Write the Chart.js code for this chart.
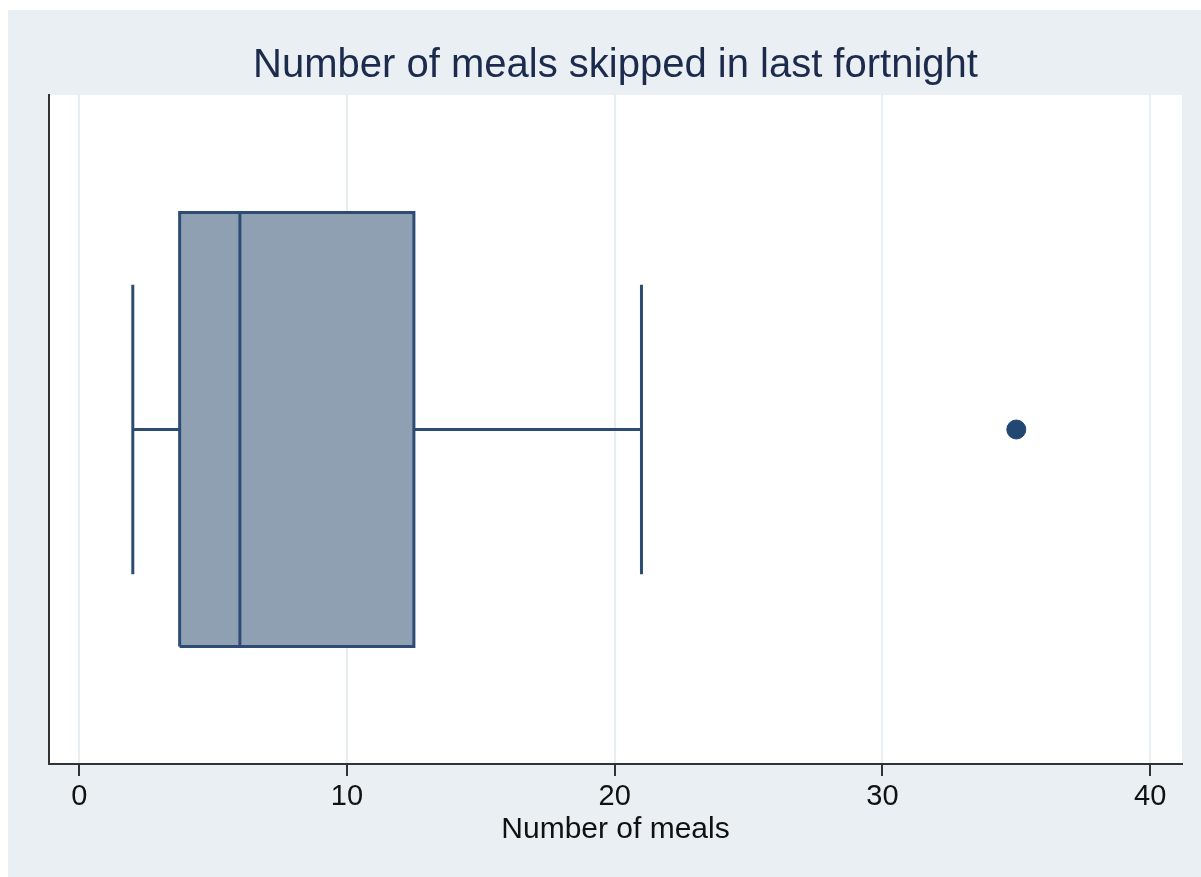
<!DOCTYPE html>
<html>
<head>
<meta charset="utf-8">
<script src="https://cdn.jsdelivr.net/npm/chart.js@4"></script>
<style>
  html, body { margin: 0; padding: 0; background: #ffffff; }
  #chart { display: block; }
</style>
</head>
<body>
<canvas id="chart" width="1201" height="877"></canvas>
<script>
// box plot values
var quartiles = [3.75, 6, 12.5];      // q1, median, q3
var whiskers = [2, 21];               // lower, upper adjacent values
var outliers = [35];
var xTicks = [0, 10, 20, 30, 40];

var boxHalf = 0.649;
var capHalf = 0.433;

var navy = "#2d4c73";

function seg(x1, y1, x2, y2){
    return [{x: x1, y: y1}, {x: x2, y: y2}];
}

var backdrop = {
    id: "backdrop",
    beforeDraw: function(chart){
        var ctx = chart.ctx;
        var a = chart.chartArea;
        ctx.save();
        ctx.fillStyle = "#eaeff3";
        ctx.fillRect(8, 10, chart.width - 8, chart.height - 10);
        ctx.fillStyle = "#ffffff";
        ctx.fillRect(a.left, a.top, a.right - a.left, a.bottom - a.top);
        ctx.restore();
    }
};

var lineStyle = {
    showLine: true,
    borderColor: navy,
    borderWidth: 3,
    pointRadius: 0,
    fill: false
};

new Chart(document.querySelector("#chart"), {
    type: "scatter",
    data: {
        datasets: [
            {
                label: "outliers",
                data: outliers.map(function(v){ return {x: v, y: 0}; }),
                pointRadius: 9.5,
                backgroundColor: "#214772",
                borderColor: "#214772",
                showLine: false
            },
            Object.assign({label: "median", data: seg(quartiles[1], -boxHalf, quartiles[1], boxHalf)}, lineStyle),
            Object.assign({label: "low cap", data: seg(whiskers[0], -capHalf, whiskers[0], capHalf)}, lineStyle),
            Object.assign({label: "low whisker", data: seg(whiskers[0], 0, quartiles[0], 0)}, lineStyle),
            Object.assign({label: "high cap", data: seg(whiskers[1], -capHalf, whiskers[1], capHalf)}, lineStyle),
            Object.assign({label: "high whisker", data: seg(quartiles[2], 0, whiskers[1], 0)}, lineStyle),
            Object.assign({}, lineStyle, {
                label: "box",
                data: [
                    {x: quartiles[0], y: -boxHalf},
                    {x: quartiles[2], y: -boxHalf},
                    {x: quartiles[2], y: boxHalf},
                    {x: quartiles[0], y: boxHalf},
                    {x: quartiles[0], y: -boxHalf}
                ],
                fill: "shape",
                backgroundColor: "#8fa0b3"
            })
        ]
    },
    options: {
        responsive: false,
        animation: false,
        devicePixelRatio: 1,
        layout: {
            padding: {top: 10, left: 49, right: 19, bottom: 0}
        },
        plugins: {
            legend: {display: false},
            tooltip: {enabled: false},
            title: {
                display: true,
                text: "Number of meals skipped in last fortnight",
                color: "#1c2a4c",
                font: {family: "'Liberation Sans', Arial, sans-serif", size: 40, weight: "normal"},
                padding: {top: 32, bottom: 5}
            }
        },
        scales: {
            x: {
                type: "linear",
                position: "bottom",
                min: -1.13,
                max: 41.19,
                afterBuildTicks: function(scale){
                    scale.ticks = xTicks.map(function(v){ return {value: v}; });
                },
                afterFit: function(scale){
                    scale.height = 113;
                },
                grid: {
                    color: "#e7eef2",
                    lineWidth: 2,
                    tickColor: "#333333",
                    tickWidth: 2,
                    tickLength: 12
                },
                border: {display: true, color: "#333333", width: 2},
                ticks: {
                    color: "#111111",
                    padding: 4,
                    maxRotation: 0,
                    font: {family: "'Liberation Sans', Arial, sans-serif", size: 29}
                },
                title: {
                    display: true,
                    text: "Number of meals",
                    color: "#111111",
                    padding: {top: 0, bottom: 29},
                    font: {family: "'Liberation Sans', Arial, sans-serif", size: 30}
                }
            },
            y: {
                type: "linear",
                min: -1,
                max: 1,
                afterFit: function(scale){
                    scale.width = 0;
                },
                grid: {display: false},
                border: {display: true, color: "#333333", width: 2},
                ticks: {display: false}
            }
        }
    },
    plugins: [backdrop]
});
</script>
</body>
</html>
